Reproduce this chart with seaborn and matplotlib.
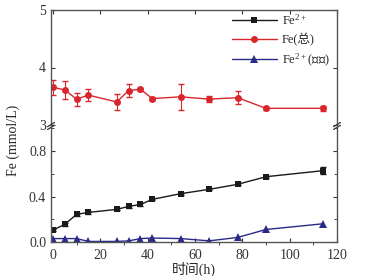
import numpy as np
import pandas as pd
import seaborn as sns
import matplotlib.pyplot as plt
from matplotlib.ticker import MultipleLocator

# data
t = [0, 5, 10, 15, 27, 32, 37, 42, 54, 66, 78, 90, 114]
fe2 = [0.105, 0.155, 0.243, 0.26, 0.287, 0.313, 0.33, 0.375, 0.425, 0.463, 0.507, 0.574, 0.627]
fe2_err = [0.01, 0.01, 0.01, 0.01, 0.01, 0.01, 0.01, 0.01, 0.01, 0.01, 0.01, 0.01, 0.03]
fe_tot = [3.655, 3.61, 3.45, 3.52, 3.40, 3.60, 3.62, 3.46, 3.49, 3.45, 3.475, 3.29, 3.29]
fe_tot_err = [0.125, 0.157, 0.115, 0.11, 0.145, 0.11, 0.03, 0.02, 0.23, 0.05, 0.11, 0.03, 0.04]
fe2_blank = [0.03, 0.03, 0.03, 0.005, 0.005, 0.01, 0.03, 0.035, 0.03, 0.01, 0.04, 0.11, 0.16]

labels = ['Fe$^{2+}$', 'Fe(总)', 'Fe$^{2+}$(空白)']
colors = ['#1a1a1a', '#d8262d', '#2a2a88']

sns.set_style('ticks')
plt.rcParams['font.family'] = ['Liberation Serif', 'Noto Sans CJK SC']
plt.rcParams['mathtext.default'] = 'regular'

fig = plt.figure(figsize=(3.76, 2.76), dpi=100)
ax_top = fig.add_axes([51/376, 1-125/276, 286/376, 115/276])
ax_bot = fig.add_axes([51/376, 1-242/276, 286/376, 116/276])

# lower part: Fe2+ and blank
sns.lineplot(x=t, y=fe2, ax=ax_bot, color=colors[0], marker='s', markersize=5,
             markeredgewidth=0, linewidth=1, label=labels[0], legend=False)
ax_bot.errorbar(t, fe2, yerr=fe2_err, fmt='none', ecolor=colors[0], elinewidth=0.8, capsize=2)
sns.lineplot(x=t, y=fe2_blank, ax=ax_bot, color=colors[2], marker='^', markersize=5.5,
             markeredgewidth=0, linewidth=1, label=labels[2], legend=False)

# upper part: total Fe
sns.lineplot(x=t, y=fe_tot, ax=ax_top, color=colors[1], marker='o', markersize=5,
             markeredgewidth=0, linewidth=1, label=labels[1], legend=False)
ax_top.errorbar(t, fe_tot, yerr=fe_tot_err, fmt='none', ecolor=colors[1], elinewidth=0.8, capsize=2)

for ax in (ax_top, ax_bot):
    ax.set_xlim(-0.8, 120)
    for s in ax.spines.values():
        s.set_color('#555555')
        s.set_linewidth(1)
    ax.tick_params(labelsize=10, colors='#333333', width=0.8, length=3)

ax_bot.set_ylim(0, 1.02)
ax_bot.yaxis.set_minor_locator(MultipleLocator(0.2))
ax_bot.set_yticks([0, 0.4, 0.8])
ax_bot.set_yticklabels(['0.0', '0.4', '0.8'])
ax_bot.xaxis.set_major_locator(MultipleLocator(20))
ax_bot.xaxis.set_minor_locator(MultipleLocator(10))
ax_bot.spines['top'].set_visible(False)
ax_bot.tick_params(axis='x', direction='in', pad=5)
ax_bot.tick_params(axis='y', right=True, which='both', direction='in')
ax_bot.tick_params(axis='y', which='minor', length=2)
ax_bot.set_xlabel('时间(h)', fontsize=10, labelpad=0)

ax_top.set_ylim(3, 5)
ax_top.set_yticks([3, 4, 5])
ax_top.spines['bottom'].set_visible(False)
ax_top.tick_params(axis='x', bottom=False, labelbottom=False, top=True, direction='in')
ax_top.xaxis.set_major_locator(MultipleLocator(20))
ax_top.tick_params(axis='y', right=True, direction='in')

fig.text(0.035, 1-140/276, 'Fe (mmol/L)', rotation=90, ha='center', va='center', fontsize=10)

# break marks on the spines
for xx in (0, 1):
    for dy in (-0.012, 0.012):
        ax_bot.plot([xx-0.012, xx+0.012], [1.0+dy-0.018, 1.0+dy+0.018], transform=ax_bot.transAxes,
                    color='#333333', linewidth=0.9, clip_on=False)

# legend collects handles from both parts
h1, l1 = ax_bot.get_legend_handles_labels()
h2, l2 = ax_top.get_legend_handles_labels()
handles = [h1[0], h2[0], h1[1]]
ax_top.legend(handles, labels, loc='upper right', bbox_to_anchor=(1.0, 1.04), frameon=False,
              fontsize=9, handlelength=3.6, handletextpad=0.4, labelspacing=0.45, borderaxespad=0.2)

fig.savefig('out.png', dpi=100)
